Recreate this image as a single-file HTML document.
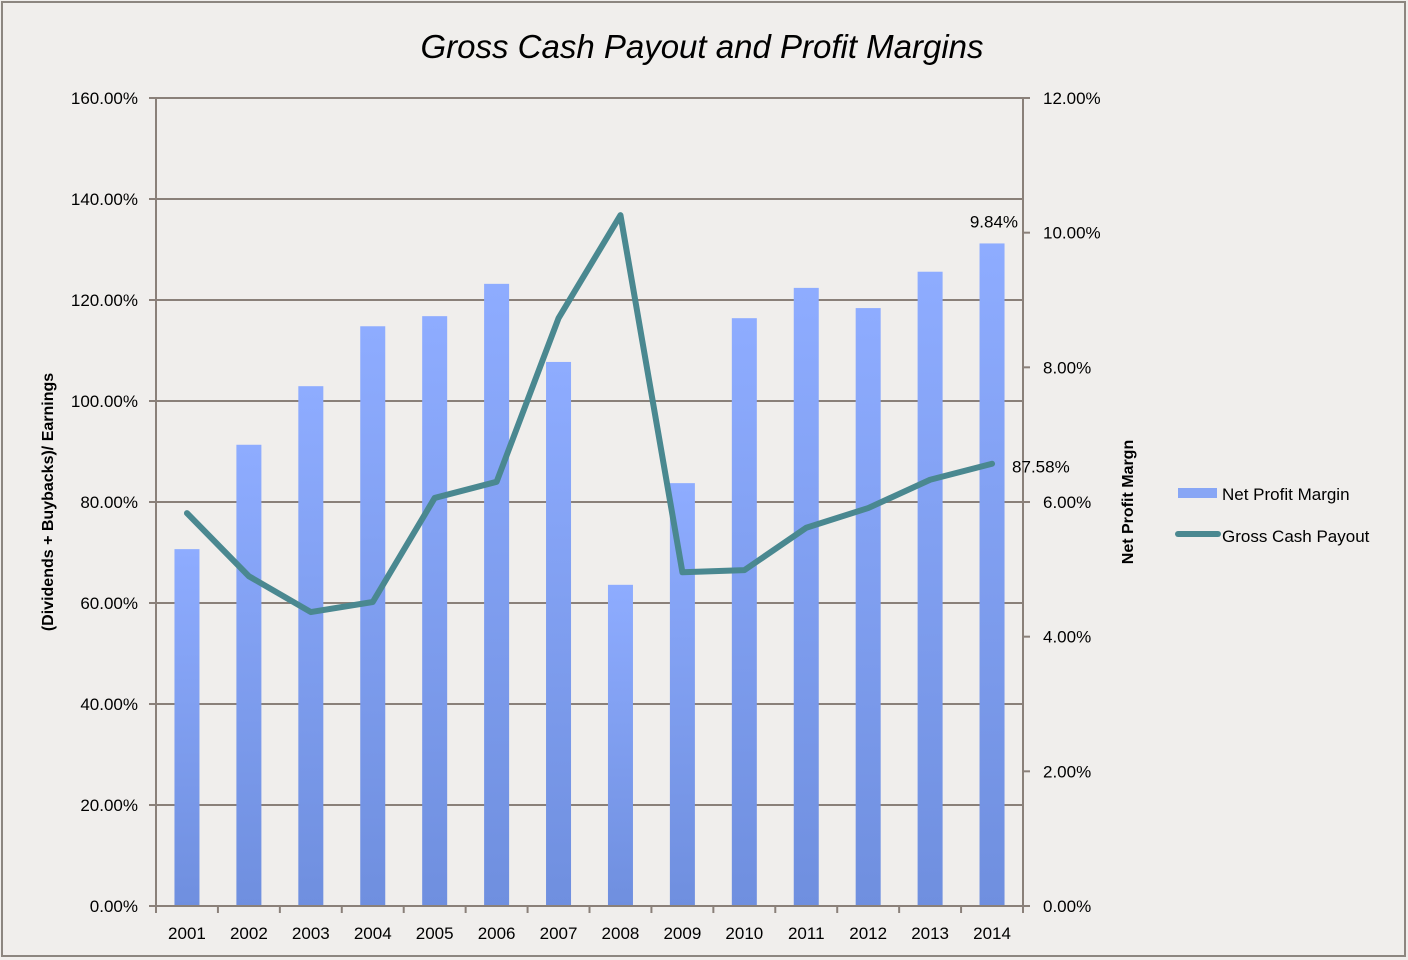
<!DOCTYPE html>
<html><head><meta charset="utf-8"><style>
html,body{margin:0;padding:0;background:#f0eeec;}
svg{display:block;font-family:"Liberation Sans",Arial,sans-serif;}
</style></head><body>
<svg id="chart" width="1408" height="960" viewBox="0 0 1408 960">
<defs>
<linearGradient id="barGrad" x1="0" y1="0" x2="0" y2="1">
<stop offset="0" stop-color="#8eacff"/><stop offset="1" stop-color="#6f8fdf"/>
</linearGradient>
</defs>
<rect x="2" y="2" width="1403" height="954" fill="#f0eeec" stroke="#8c8680" stroke-width="2"/>
<text x="702" y="58" text-anchor="middle" font-size="33" font-style="italic" fill="#000">Gross Cash Payout and Profit Margins</text>
<g id="grid"></g>
<g id="bars"></g>
<g id="axes"></g>
<g id="line"></g>
<text transform="translate(53,502) rotate(-90)" text-anchor="middle" font-size="16" font-weight="bold">(Dividends + Buybacks)/ Earnings</text>
<text transform="translate(1133,502) rotate(-90)" text-anchor="middle" font-size="16" font-weight="bold">Net Profit Margn</text>
<g>
<rect x="1178" y="488" width="39" height="10" fill="#88a6f5"/>
<text x="1222" y="500" font-size="17">Net Profit Margin</text>
<line x1="1178" y1="534" x2="1218" y2="534" stroke="#4a8890" stroke-width="6" stroke-linecap="round"/>
<text x="1222" y="542" font-size="17">Gross Cash Payout</text>
</g>
</svg>
<script>
const years = ["2001","2002","2003","2004","2005","2006","2007","2008","2009","2010","2011","2012","2013","2014"];
const netProfitMargin = [5.30,6.85,7.72,8.61,8.76,9.24,8.08,4.77,6.28,8.73,9.18,8.88,9.42,9.84];
const grossCashPayout = [77.8,65.3,58.2,60.2,80.8,84.0,116.4,136.8,66.1,66.5,74.9,78.8,84.4,87.58];
const leftTicks = [0,20,40,60,80,100,120,140,160];
const rightTicks = [0,2,4,6,8,10,12];

const NS="http://www.w3.org/2000/svg";
const X0=156,X1=1023,Y0=906,Y1=98;
const band=(X1-X0)/years.length;
const xC=i=>X0+band*(i+0.5);
const yL=v=>Y0-(v-0)/(160-0)*(Y0-Y1);
const yR=v=>Y0-(v-0)/(12-0)*(Y0-Y1);
function mk(tag,attrs,parent,txt){const e=document.createElementNS(NS,tag);for(const k in attrs)e.setAttribute(k,attrs[k]);if(txt!==undefined)e.textContent=txt;parent.appendChild(e);return e;}
const grid=document.getElementById('grid'),bars=document.getElementById('bars'),axes=document.getElementById('axes'),lineG=document.getElementById('line');

leftTicks.forEach(t=>{
  const y=yL(t);
  if(t>0){const g=mk('line',{x1:X0,y1:y,x2:X1,y2:y,stroke:'#8a8079','stroke-width':2},grid);
  
  }
  const tk=mk('line',{x1:X0-7,y1:y,x2:X0,y2:y,stroke:'#8a8079','stroke-width':2},axes);
  
  
  const lb=mk('text',{x:X0-18,y:y+6,'text-anchor':'end','font-size':17},axes,t.toFixed(2)+'%');
  
  
});
rightTicks.forEach(t=>{
  const y=yR(t);
  const tk=mk('line',{x1:X1,y1:y,x2:X1+7,y2:y,stroke:'#8a8079','stroke-width':2},axes);
  
  
  const lb=mk('text',{x:X1+20,y:y+6,'font-size':17},axes,t.toFixed(2)+'%');
  
  
});
years.forEach((yr,i)=>{
  const h=Y0-yR(netProfitMargin[i]);
  const b=mk('rect',{x:xC(i)-12.5,y:yR(netProfitMargin[i]),width:25,height:h,fill:'url(#barGrad)'},bars);
  
  
  const lb=mk('text',{x:xC(i),y:939,'text-anchor':'middle','font-size':17},axes,yr);
  
  
});
for(let i=0;i<=years.length;i++){
  const x=X0+band*i;
  const tk=mk('line',{x1:x,y1:Y0,x2:x,y2:Y0+7,stroke:'#8a8079','stroke-width':2},axes);
  
  
}
const la=mk('line',{x1:X0,y1:Y1-1,x2:X0,y2:Y0,stroke:'#8a8079','stroke-width':2},axes);


const ra=mk('line',{x1:X1,y1:Y1-1,x2:X1,y2:Y0,stroke:'#8a8079','stroke-width':2},axes);


const ba=mk('line',{x1:X0-7,y1:Y0,x2:X1,y2:Y0,stroke:'#8a8079','stroke-width':2},axes);



const pts=grossCashPayout.map((v,i)=>xC(i)+','+yL(v)).join(' ');
const pl=mk('polyline',{points:pts,fill:'none',stroke:'#4a8890','stroke-width':6,'stroke-linejoin':'round','stroke-linecap':'round'},lineG);



const last=years.length-1;
const l1=mk('text',{x:xC(last)+26,y:yR(netProfitMargin[last])-16,'text-anchor':'end','font-size':17},axes,netProfitMargin[last].toFixed(2)+'%');


const l2=mk('text',{x:xC(last)+20,y:yL(grossCashPayout[last])+9,'font-size':17},axes,grossCashPayout[last].toFixed(2)+'%');


</script>
</body></html>
